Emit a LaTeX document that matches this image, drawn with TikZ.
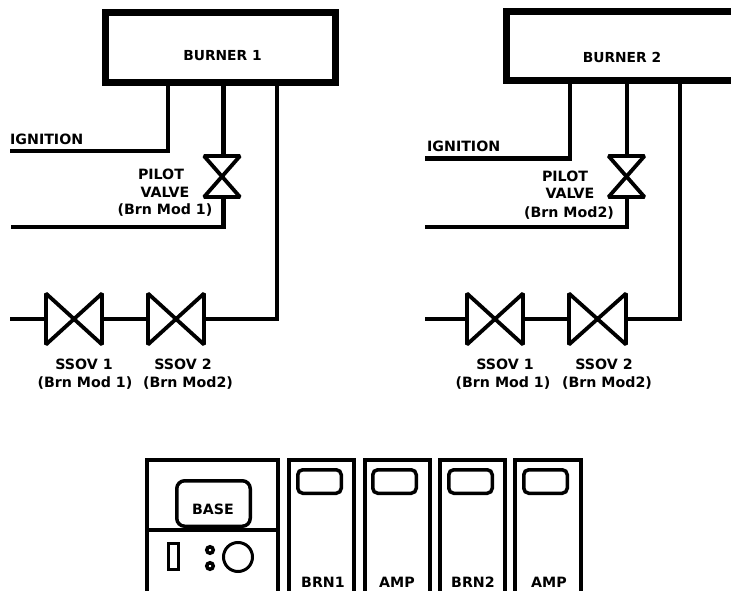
\documentclass[tikz,border=0pt]{standalone}
\usepackage{fontspec}
\setmainfont{DejaVu Sans}
\tikzset{
  x=1pt,y=-1pt,
  pipe/.style={line width=4.4pt,line join=miter},
  burnerbox/.style={draw,line width=7pt,inner sep=0pt,anchor=north west},
  valvebox/.style={inner sep=0pt,outer sep=0pt},
  bowtie/.style={line width=3.8pt,line join=miter,miter limit=2},
  txt/.style={font=\bfseries\fontsize{14.2}{16}\selectfont,inner sep=0pt},
  lbl/.style={font=\bfseries\fontsize{13.8}{15}\selectfont,inner sep=0pt},
  panel/.style={draw,line width=4pt,inner sep=0pt,anchor=north west},
  window/.style={draw,line width=3.5pt,rounded corners=5pt,inner sep=0pt,anchor=north west}
}
\newcommand{\hvalve}[3]{% name, left x, right x
  \node[valvebox,minimum width=#3pt-#2pt,minimum height=51pt,anchor=west] (#1) at (#2,319) {};
  \draw[bowtie] (#1.north west) -- (#1.south east) -- (#1.north east) -- (#1.south west) -- cycle;}
\newcommand{\vvalve}[2]{% name, centre x
  \node[valvebox,minimum width=36pt,minimum height=41pt] (#1) at (#2,176.5) {};
  \draw[bowtie] (#1.north west) -- (#1.north east) -- (#1.south west) -- (#1.south east) -- cycle;}
\newcommand{\module}[4]{% name, outer left, path width, window outer left
  \node[panel,minimum width=#3pt,minimum height=150pt] (#1) at (#2,458) {};
  \node[window,minimum width=43.5pt,minimum height=23.5pt] (#1w) at (#4,468) {};}
\begin{document}
\begin{tikzpicture}
\useasboundingbox (0,0) rectangle (731,591);
\clip (0,0) rectangle (731,591);
% Burner 1
\node[burnerbox,minimum width=230pt,minimum height=70pt] (b1) at (101.5,9) {};
\node[lbl] (b1t) at (222.5,56) {BURNER 1};
\coordinate (i1s) at (168,85); \coordinate (i1e) at (10,151);
\draw[pipe] (i1s) |- (i1e);
\vvalve{pv1}{222}
\coordinate (p1s) at (223.5,85);
\coordinate (p1e) at (11,227);
\draw[pipe] (p1s) -- (p1s |- pv1.north);
\draw[pipe] (p1s |- pv1.south) |- (p1e);
\hvalve{a1}{46}{102}
\hvalve{a2}{148}{204}
\coordinate (m1s) at (277,85);
\coordinate (m1e) at (10,319);
\draw[pipe] (m1s) |- (a2.east);
\draw[pipe] (a2.west) -- (a1.east);
\draw[pipe] (a1.west) -- (m1e);
\node[txt,anchor=west] (ig1) at (10,139) {IGNITION};
\node[txt] (pl1) at (161,174) {PILOT};
\node[txt] (vl1) at (165,192) {VALVE};
\node[txt] (md1) at (165,210) {(Brn Mod 1)};
\node[txt] (s1a) at (84,364) {SSOV 1};
\node[txt] (s1b) at (85,383) {(Brn Mod 1)};
\node[txt] (s2a) at (183,364) {SSOV 2};
\node[txt] (s2b) at (188,383) {(Brn Mod2)};
% Burner 2
\node[burnerbox,minimum width=260pt,minimum height=69.5pt] (b2) at (502.5,8) {};
\node[lbl] (b2t) at (622,57) {BURNER 2};
\coordinate (i2s) at (570,83); \coordinate (i2e) at (425,158.5);
\draw[pipe] (i2s) |- (i2e);
\vvalve{pv2}{626.5}
\coordinate (p2s) at (627,83);
\coordinate (p2e) at (425,227);
\draw[pipe] (p2s) -- (p2s |- pv2.north);
\draw[pipe] (p2s |- pv2.south) |- (p2e);
\hvalve{c1}{467}{523}
\hvalve{c2}{569}{626}
\coordinate (m2s) at (680,83);
\coordinate (m2e) at (425,319);
\draw[pipe] (m2s) |- (c2.east);
\draw[pipe] (c2.west) -- (c1.east);
\draw[pipe] (c1.west) -- (m2e);
\node[txt,anchor=west] (ig2) at (427,146.5) {IGNITION};
\node[txt] (pl2) at (565,176) {PILOT};
\node[txt] (vl2) at (570,193) {VALVE};
\node[txt] (md2) at (569,213) {(Brn Mod2)};
\node[txt] (t1a) at (505,364) {SSOV 1};
\node[txt] (t1b) at (503,383) {(Brn Mod 1)};
\node[txt] (t2a) at (604,364) {SSOV 2};
\node[txt] (t2b) at (607,383) {(Brn Mod2)};
% Rack
\node[panel,minimum width=131pt,minimum height=150pt] (base) at (145,458) {};
\coordinate (dl) at (147,530); \coordinate (dr) at (278,530);
\draw[line width=3.5pt] (dl) -- (dr);
\node[window,rounded corners=8pt,minimum width=73.5pt,minimum height=45.5pt] (bw) at (175,479) {};
\node[txt] (bl) at (213,509) {BASE};
\node[draw,line width=3pt,inner sep=0pt,minimum width=10pt,minimum height=26pt,anchor=north west] (sw) at (167,542) {};
\node[draw,line width=3.5pt,circle,inner sep=0pt,minimum size=6.5pt] (d1) at (210,550) {};
\node[draw,line width=3.5pt,circle,inner sep=0pt,minimum size=6.5pt] (d2) at (210,566) {};
\node[draw,line width=3pt,circle,inner sep=0pt,minimum size=29pt] (kn) at (238,557) {};
\module{m1}{287}{65}{296}
\module{m2}{363}{65}{371}
\module{m3}{438}{65}{447}
\module{m4}{513}{66}{522}
\node[txt] (l1) at (323,582) {BRN1};
\node[txt] (l2) at (397,582) {AMP};
\node[txt] (l3) at (473,582) {BRN2};
\node[txt] (l4) at (549,582) {AMP};
\end{tikzpicture}
\end{document}
